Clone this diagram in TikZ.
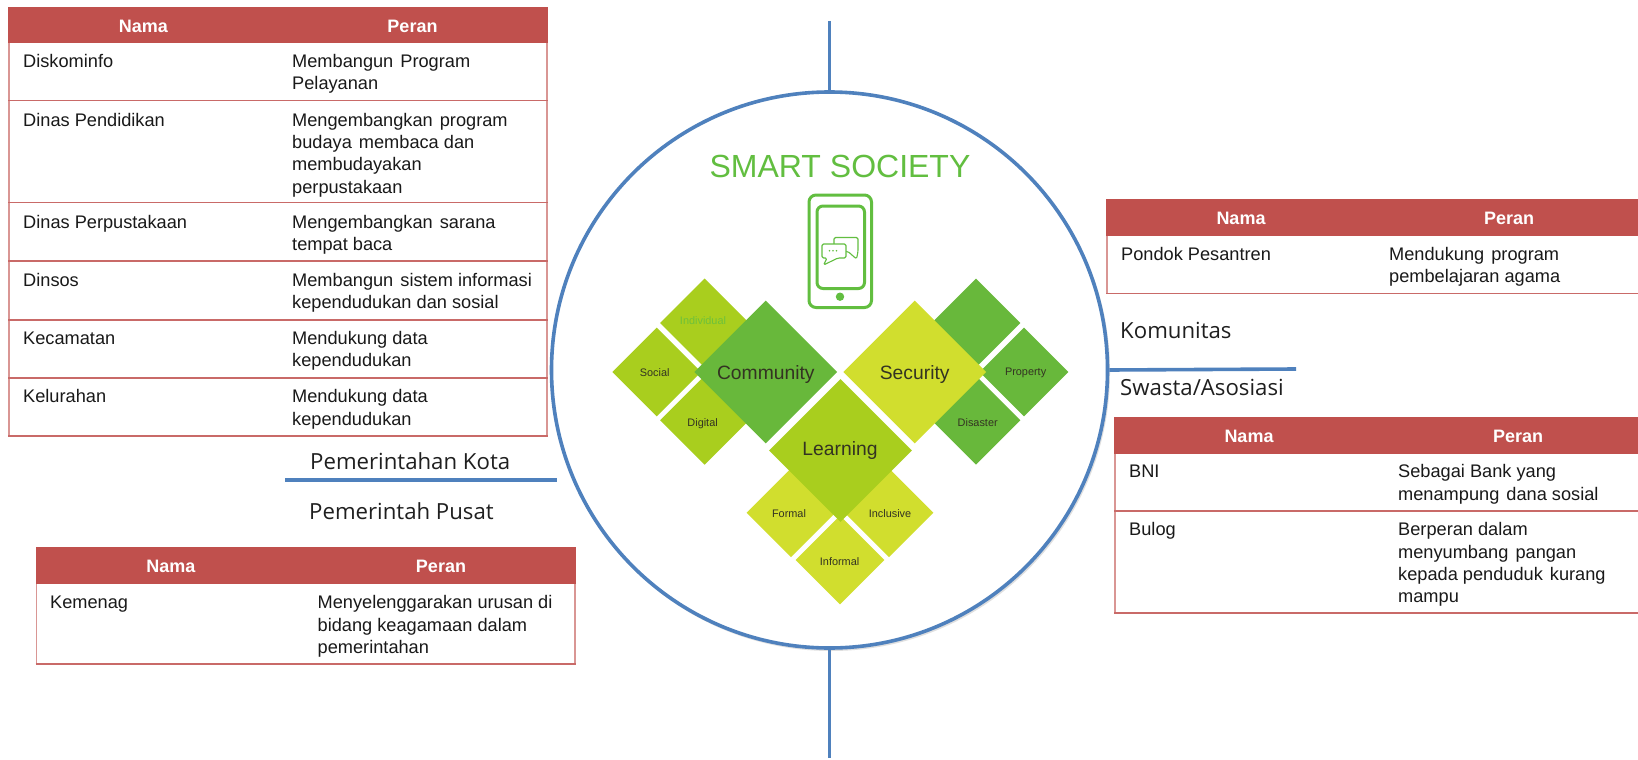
\documentclass[tikz,border=0pt]{standalone}
\usepackage{fontspec}
\setmainfont{Liberation Sans}
\newfontfamily\labelfont{Open Sans}
\usetikzlibrary{shapes.geometric}
\definecolor{tblred}{HTML}{C0504D}
\definecolor{tblpink}{HTML}{D99694}
\definecolor{axisblue}{HTML}{4F81BD}
\definecolor{gDark}{HTML}{68B83B}
\definecolor{gMid}{HTML}{A9CE1E}
\definecolor{gLight}{HTML}{D1DE2E}
\definecolor{titlegreen}{HTML}{62BE40}
\definecolor{inktext}{HTML}{333322}
\newcommand{\xs}{\ \kern2pt}
\tikzset{
  x=1pt,y=-1pt,
  hdrband/.style={fill=tblred,draw=none},
  hdrtext/.style={text=white,yshift=-1pt,font=\fontsize{18}{22}\selectfont\bfseries,inner sep=0pt},
  celltext/.style={anchor=north west,inner sep=0pt,align=left,text=black!90,font=\fontsize{18.2}{22.3}\selectfont},
  framepink/.style={draw=tblpink,line width=1.8pt},
  rowline/.style={draw=tblred!85!white,line width=1.5pt},
  axisline/.style={draw=axisblue,line width=3.6pt},
  sidelabel/.style={anchor=west,inner sep=0pt,text=black!88,font=\labelfont\fontsize{22.2}{26}\selectfont},
  bigdia/.style={diamond,aspect=1,inner sep=0pt,minimum width=143pt,minimum height=143pt},
  bigtext/.style={inner sep=0pt,text=inktext,font=\fontsize{19.3}{22}\selectfont},
  smalldia/.style={diamond,aspect=1,inner sep=0pt,minimum width=89pt,minimum height=89pt},
  smalltext/.style={inner sep=0pt,text=inktext,font=\fontsize{10.9}{13}\selectfont},
  phoneline/.style={draw=titlegreen,line width=3pt,rounded corners=7pt},
  chatline/.style={draw=titlegreen,line width=1.1pt,rounded corners=1.5pt,fill=white,line join=round},
}
\begin{document}
\begin{tikzpicture}
\useasboundingbox (0,0) rectangle (1638,760);
\fill[white] (0,0) rectangle (1638,760);

% axes
\coordinate (axT) at (829.5,21);
\coordinate (axB) at (829.5,758);
\coordinate (axR) at (1296,369);
\coordinate (axLa) at (285,480);
\coordinate (axLb) at (557,480);
\draw[gray!25,line width=2pt] (831,372) circle[radius=278];
\node[circle,draw=axisblue,fill=white,line width=3.6pt,minimum size=556pt,inner sep=0pt] (hub) at (829.5,370) {};
\draw[axisline] (axT) -- (hub.north);
\draw[axisline] (hub.south) -- (axB);
\draw[axisline] (hub.east) -- (axR);
\draw[axisline] (axLa) -- (axLb);

% side labels
\node[sidelabel] (lbKota) at (310,461) {Pemerintahan Kota};
\node[sidelabel] (lbPusat) at (309,511) {Pemerintah Pusat};
\node[sidelabel] (lbKom) at (1120,330) {Komunitas};
\node[sidelabel] (lbSwa) at (1120,387) {Swasta/Asosiasi};

% title and phone
\node[inner sep=0pt,text=titlegreen,font=\fontsize{32}{36}\selectfont] (title) at (840,166) {SMART SOCIETY};
\draw[phoneline] (809,195) rectangle (871.5,307.5);
\draw[phoneline,rounded corners=6pt] (817,206) rectangle (864.5,288.5);
\fill[titlegreen] (840,296.7) circle[radius=4.2];
\draw[chatline] (834,251.5) -- (834,237.5) -- (858,237.5) -- (858,251.5) -- (856.5,259) -- (848,251.5) -- cycle;
\draw[chatline] (822,244) -- (846,244) -- (846,258) -- (838,258) -- (823.5,265) -- (827,258) -- (822,258) -- cycle;
\foreach \dx in {829.5,833,836.5} \fill[titlegreen] (\dx,250.8) circle[radius=0.9];

% small diamonds
\node[smalldia,fill=gMid] (dSocial) at (656.7,372) {};
\node[smalldia,fill=gMid] (dIndividual) at (704.6,323) {};
\node[smalldia,fill=gMid] (dDigital) at (704.6,420.3) {};
\node[smalldia,fill=gDark] (dBlank) at (976,323) {};
\node[smalldia,fill=gDark] (dProperty) at (1024,372) {};
\node[smalldia,fill=gDark] (dDisaster) at (976,420.3) {};
\node[smalldia,fill=gLight] (dFormal) at (791,512.7) {};
\node[smalldia,fill=gLight] (dInclusive) at (889,512.7) {};
\node[smalldia,fill=gLight] (dInformal) at (840,560) {};

% large diamonds
\node[bigdia,fill=gDark] (dCommunity) at (765.8,372) {};
\node[bigdia,fill=gLight] (dSecurity) at (914.7,372) {};
\node[bigdia,fill=gMid] (dLearning) at (840.5,450.5) {};
\node[bigtext] (tCommunity) at (765.8,375) {Community};
\node[bigtext] (tSecurity) at (914.7,375) {Security};
\node[bigtext] (tLearning) at (840,451) {Learning};

% small diamond labels
\node[smalltext] (tSocial) at (654.7,373) {Social};
\node[smalltext,text=titlegreen!85!gMid] (tIndividual) at (703,321) {Individual};
\node[smalltext] (tDigital) at (702.6,423.7) {Digital};
\node[smalltext] (tProperty) at (1025.6,373) {Property};
\node[smalltext] (tDisaster) at (977.7,422.7) {Disaster};
\node[smalltext] (tFormal) at (789,513.7) {Formal};
\node[smalltext] (tInclusive) at (890,513.7) {Inclusive};
\node[smalltext] (tInformal) at (839.6,562) {Informal};

% table 1
\draw[framepink] (9,43) -- (9,436) (547,43) -- (547,436);
\fill[hdrband] (8,7) rectangle (548,43);
\foreach \yy in {100.7,202.7,261,320,378,436} \draw[rowline] (8,\yy) -- (548,\yy);
\node[hdrtext] (a0) at (143.5,25.5) {Nama};
\node[hdrtext] (a1) at (412.5,25.5) {Peran};
\node[celltext] (a2) at (23,51.4) {\strut Diskominfo};
\node[celltext] (a3) at (292,51.4) {\strut Membangun\xs Program\\\strut Pelayanan};
\node[celltext] (a4) at (23,110.4) {\strut Dinas Pendidikan};
\node[celltext] (a5) at (292,110.4) {\strut Mengembangkan\xs program\\\strut budaya\xs membaca dan\\\strut membudayakan\\\strut perpustakaan};
\node[celltext] (a6) at (23,212.4) {\strut Dinas Perpustakaan};
\node[celltext] (a7) at (292,212.4) {\strut Mengembangkan\xs sarana\\\strut tempat baca};
\node[celltext] (a8) at (23,270.4) {\strut Dinsos};
\node[celltext] (a9) at (292,270.4) {\strut Membangun\xs sistem informasi\\\strut kependudukan dan sosial};
\node[celltext] (a10) at (23,328.4) {\strut Kecamatan};
\node[celltext] (a11) at (292,328.4) {\strut Mendukung data\\\strut kependudukan};
\node[celltext] (a12) at (23,386.9) {\strut Kelurahan};
\node[celltext] (a13) at (292,386.9) {\strut Mendukung data\\\strut kependudukan};

% table 2
\draw[framepink] (36.5,584) -- (36.5,664) (575,584) -- (575,664);
\fill[hdrband] (35.5,547) rectangle (576,584);
\draw[rowline] (35.5,664) -- (576,664);
\node[hdrtext] (b0) at (171,565.5) {Nama};
\node[hdrtext] (b1) at (441,565.5) {Peran};
\node[celltext] (b2) at (50,592.9) {\strut Kemenag};
\node[celltext] (b3) at (317.5,592.9) {\strut Menyelenggarakan urusan di\\\strut bidang keagamaan dalam\\\strut pemerintahan};

% table 3
\draw[framepink] (1107,235) -- (1107,293.5);
\fill[hdrband] (1106,199) rectangle (1638,236);
\draw[rowline] (1106,293.5) -- (1638,293.5);
\node[hdrtext] (c0) at (1241,217.5) {Nama};
\node[hdrtext] (c1) at (1509,217.5) {Peran};
\node[celltext] (c2) at (1121,244.5) {\strut Pondok Pesantren};
\node[celltext] (c3) at (1389,244.5) {\strut Mendukung\xs program\\\strut pembelajaran agama};

% table 4
\draw[framepink] (1115,453.5) -- (1115,613);
\fill[hdrband] (1114,417) rectangle (1638,453.5);
\draw[rowline] (1114,511) -- (1638,511);
\draw[rowline] (1114,613) -- (1638,613);
\node[hdrtext] (d0) at (1249,435.5) {Nama};
\node[hdrtext] (d1) at (1518,435.5) {Peran};
\node[celltext] (d2) at (1129,462) {\strut BNI};
\node[celltext] (d3) at (1398,462) {\strut Sebagai Bank yang\\\strut menampung\xs dana sosial};
\node[celltext] (d4) at (1129,520) {\strut Bulog};
\node[celltext] (d5) at (1398,520) {\strut Berperan dalam\\\strut menyumbang\xs pangan\\\strut kepada penduduk\xs kurang\\\strut mampu};
\end{tikzpicture}
\end{document}
